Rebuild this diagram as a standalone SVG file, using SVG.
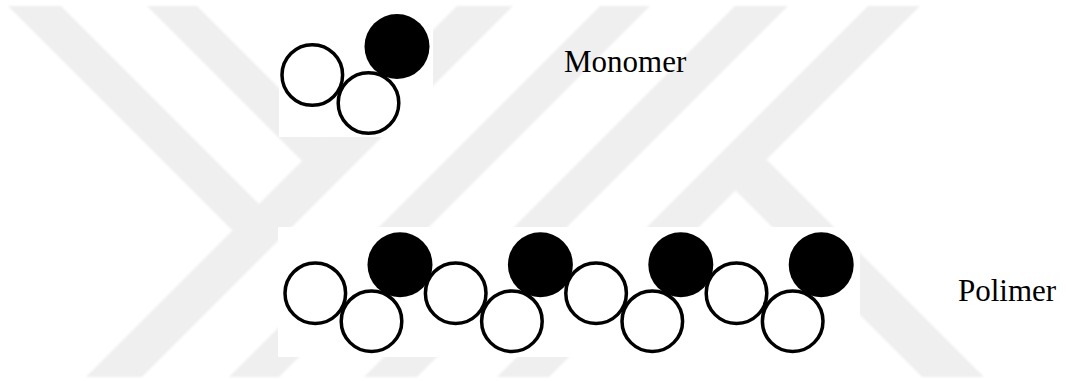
<svg xmlns="http://www.w3.org/2000/svg" xmlns:xlink="http://www.w3.org/1999/xlink" width="1066" height="381" viewBox="0 0 1066 381">
  <style>
    .wm { fill: #efefef; }
    .panel { fill: #ffffff; }
    .atom { fill: #ffffff; stroke: #000000; stroke-width: 3.5; }
    .atom-dark { fill: #000000; }
    .label { font-family: "Liberation Serif", "Times New Roman", serif; font-size: 31px; fill: #000000; }
  </style>
  <defs>
    <filter id="soft" x="-5%" y="-5%" width="110%" height="110%">
      <feGaussianBlur stdDeviation="0.9"/>
    </filter>
    <!-- one repeat unit: two open atoms and one filled atom -->
    <g id="unit">
      <circle class="atom-dark" cx="84.7" cy="-28.5" r="32.5"/>
      <circle class="atom" cx="0" cy="0" r="30.3"/>
      <circle class="atom" cx="56.2" cy="28" r="30.3"/>
    </g>
  </defs>

  <rect width="1066" height="381" fill="#ffffff"/>

  <!-- background stripes -->
  <g id="backdrop" filter="url(#soft)">
    <polygon class="wm" points="8,6 61,6 259,204 232.5,230.5"/>
    <polygon class="wm" points="457,6 513,6 142,377 86,377"/>
    <polygon class="wm" points="147,6 197,6 327,136 302,161"/>
    <polygon class="wm" points="600,6 650,6 279,377 229,377"/>
    <polygon class="wm" points="735,6 788,6 417,377 364,377"/>
    <polygon class="wm" points="868,6 920,6 549,377 497,377"/>
    <polygon class="wm" points="735.5,190.5 766.5,159.5 984,377 922,377"/>
  </g>

  <!-- monomer -->
  <g id="monomer">
    <rect class="panel" x="279" y="0" width="154" height="137"/>
    <use xlink:href="#unit" transform="translate(312.3,75)"/>
  </g>

  <!-- polymer chain of four units -->
  <g id="polymer">
    <rect class="panel" x="278" y="227" width="582" height="130"/>
    <use xlink:href="#unit" transform="translate(315.3,293.2)"/>
    <use xlink:href="#unit" transform="translate(455.7,293.2)"/>
    <use xlink:href="#unit" transform="translate(596.1,293.2)"/>
    <use xlink:href="#unit" transform="translate(736.5,293.2)"/>
  </g>

  <g id="label-monomer">
    <text class="label" x="564" y="72">Monomer</text>
  </g>
  <g id="label-polymer">
    <text class="label" x="958" y="301">Polimer</text>
  </g>
</svg>
